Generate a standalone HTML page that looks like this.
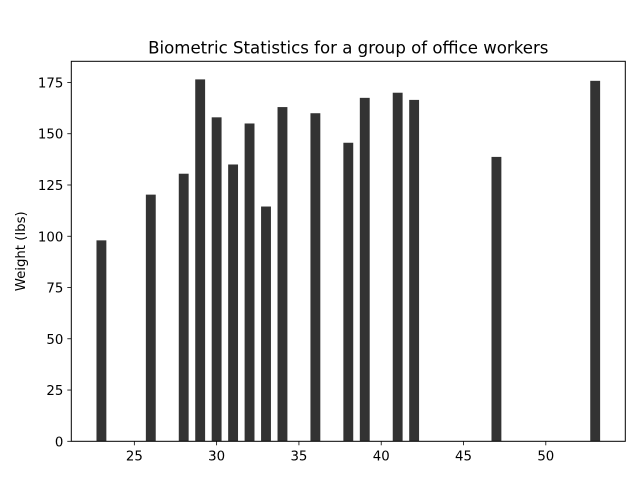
<!DOCTYPE html>
<html><head><meta charset="utf-8"><style>
body{margin:0;background:#fff;}
svg text{font-family:"DejaVu Sans","Liberation Sans",sans-serif;fill:#000;}
</style></head><body>
<svg id="chart" width="640" height="480" xmlns="http://www.w3.org/2000/svg">
<rect width="640" height="480" fill="#fff"/>
<g id="bars"></g>
<g id="axes"></g>
</svg>
<script>
const ages = [23, 26, 28, 29, 30, 31, 32, 33, 34, 36, 38, 39, 41, 42, 47, 53];
const weights = [98, 120.3, 130.5, 176.5, 158, 135, 155, 114.5, 163, 160, 145.6, 167.5, 170, 166.5, 138.7, 175.8];
const xTicks = [25, 30, 35, 40, 45, 50];
const yTicks = [0, 25, 50, 75, 100, 125, 150, 175];

const L = 71.3, R = 625.3, T = 61.3, B = 441.3;
const barW = 0.6;
const xMin0 = Math.min(...ages) - barW / 2, xMax0 = Math.max(...ages) + barW / 2;
const xPad = (xMax0 - xMin0) * 0.05;
const xMin = xMin0 - xPad, xMax = xMax0 + xPad;
const yMax = Math.max(...weights) * 1.05;
const sx = v => L + (v - xMin) / (xMax - xMin) * (R - L);
const sy = v => B - v / yMax * (B - T);
const NS = "http://www.w3.org/2000/svg";
function mk(tag, attrs, parent) {
  const e = document.createElementNS(NS, tag);
  for (const k in attrs) e.setAttribute(k, attrs[k]);
  parent.appendChild(e);
  return e;
}
const gb = document.getElementById('bars');
ages.forEach((a, i) => {
  const r = mk('rect', {x: sx(a - barW / 2), y: sy(weights[i]), width: sx(a + barW / 2) - sx(a - barW / 2), height: B - sy(weights[i]), fill: '#333333'}, gb);
  
  
});
const ga = document.getElementById('axes');
const frame = mk('rect', {x: L, y: T, width: R - L, height: B - T, fill: 'none', stroke: '#000', 'stroke-width': 1}, ga);


xTicks.forEach(t => {
  const x = sx(t);
  mk('line', {x1: x, x2: x, y1: B, y2: B + 4, stroke: '#000', 'stroke-width': 0.8}, ga);
  const tx = mk('text', {x: x, y: B + 19, 'text-anchor': 'middle', 'font-size': 13.3}, ga);
  tx.textContent = t;
  
  
});
yTicks.forEach(t => {
  const y = sy(t);
  mk('line', {x1: L - 4, x2: L, y1: y, y2: y, stroke: '#000', 'stroke-width': 0.8}, ga);
  const tx = mk('text', {x: L - 8, y: y + 5, 'text-anchor': 'end', 'font-size': 13.3}, ga);
  tx.textContent = t;
  
  
});
const yl = mk('text', {x: 0, y: 0, transform: 'translate(25,' + (T + B) / 2 + ') rotate(-90)', 'text-anchor': 'middle', 'font-size': 13.3}, ga);
yl.textContent = 'Weight (lbs)';


const ti = mk('text', {x: (L + R) / 2, y: T - 8, 'text-anchor': 'middle', 'font-size': 16.6}, ga);
ti.textContent = 'Biometric Statistics for a group of office workers';


</script>
</body></html>
